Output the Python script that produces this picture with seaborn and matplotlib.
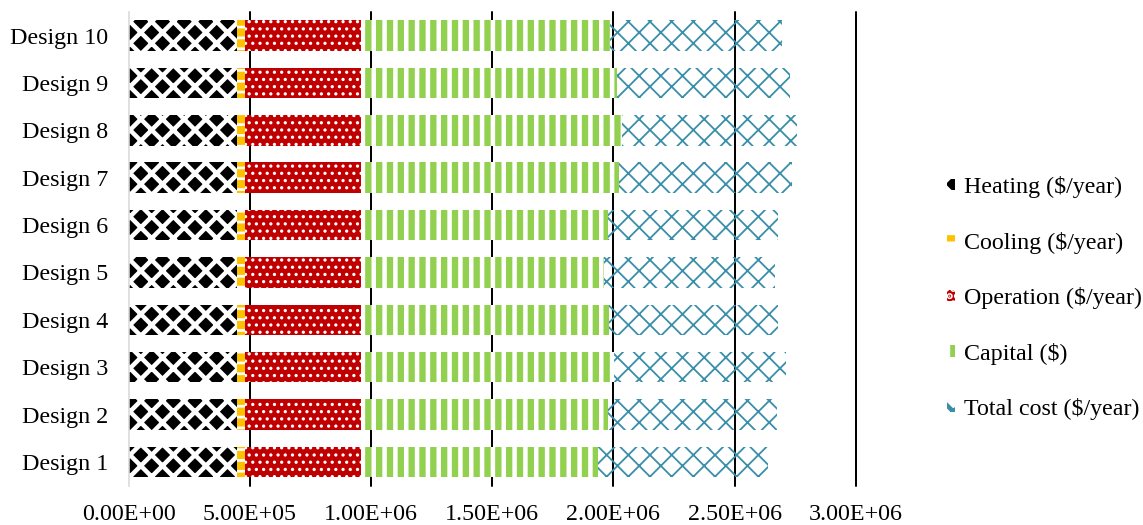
import numpy as np
import pandas as pd
import matplotlib
matplotlib.use("Agg")
import matplotlib.pyplot as plt
from matplotlib.ticker import FuncFormatter
import seaborn as sns

# ---- data -----------------------------------------------------------------
designs = ["Design 1", "Design 2", "Design 3", "Design 4", "Design 5",
           "Design 6", "Design 7", "Design 8", "Design 9", "Design 10"]
heating = [446e3, 446e3, 446e3, 446e3, 446e3, 446e3, 446e3, 446e3, 446e3, 446e3]
cooling = [34e3, 34e3, 34e3, 34e3, 34e3, 34e3, 34e3, 34e3, 34e3, 34e3]
operation = [477e3, 477e3, 477e3, 477e3, 477e3, 477e3, 477e3, 477e3, 477e3, 477e3]
capital = [981e3, 1022e3, 1045e3, 1026e3, 1004e3, 1022e3, 1067e3, 1077e3, 1057e3, 1029e3]
total_cost = [698e3, 697e3, 710e3, 698e3, 706e3, 702e3, 712e3, 722e3, 715e3, 709e3]

series_names = ["Heating ($/year)", "Cooling ($/year)", "Operation ($/year)",
                "Capital ($)", "Total cost ($/year)"]
x_ticks = [0, 5e5, 1.0e6, 1.5e6, 2.0e6, 2.5e6, 3.0e6]

# ---- styling ----------------------------------------------------------------
DPI = 130
sns.set_theme(style="white")
plt.rcParams["font.family"] = ["Liberation Serif", "DejaVu Serif"]
plt.rcParams["font.size"] = 13.3
plt.rcParams["text.color"] = "black"
plt.rcParams["hatch.linewidth"] = 2.5

# face colour, hatch colour, hatch pattern, hatch line width
styles = {
    "Heating ($/year)":    ("black",   "white",   "xx",  2.5),
    "Cooling ($/year)":    ("#FFC000", "white",   "--",  1.5),
    "Operation ($/year)":  ("#C00000", "white",   "...", 1.0),
    "Capital ($)":         ("#92D050", "white",   "||",  2.5),
    "Total cost ($/year)": ("none",    "#3A8FA8", "xx",  1.0),
}

# stacked totals: each layer is drawn from zero to its cumulative end
stack = np.vstack([heating, cooling, operation, capital, total_cost])
cum = np.cumsum(stack, axis=0)
df = pd.DataFrame({"design": designs})
for name, row in zip(series_names, cum):
    df[name] = row

order = designs[::-1]

fig = plt.figure(figsize=(1143 / DPI, 525 / DPI), dpi=DPI)
ax = fig.add_axes([0.1126, 0.0749, 0.6361, 0.9026])

handles = {}
for name in series_names[::-1]:
    face, hcol, hatch, hlw = styles[name]
    n0 = len(ax.patches)
    sns.barplot(data=df, x=name, y="design", order=order, orient="y",
                color="white" if face == "none" else face, saturation=1,
                width=0.645, errorbar=None, hatch=hatch, edgecolor=hcol,
                linewidth=0, ax=ax)
    new = ax.patches[n0:]
    for p in new:
        p.set_facecolor(face)
        p.set_edgecolor(hcol)
        p.set_linewidth(0)
        if hasattr(p, "set_hatch_linewidth"):
            p.set_hatch_linewidth(hlw)
    handles[name] = new[0]

ax.set_xlim(0, 3.0e6)
ax.set_xlabel("")
ax.set_ylabel("")
ax.set_xticks(x_ticks)
ax.xaxis.set_major_formatter(FuncFormatter(lambda v, _: f"{v:.2E}"))

ax.set_axisbelow(True)
ax.xaxis.grid(True, color="black", linewidth=1.1)
ax.yaxis.grid(False)
for gl in ax.get_xgridlines():
    gl.set_clip_on(False)
for side in ["top", "right", "bottom"]:
    ax.spines[side].set_visible(False)
ax.spines["left"].set_color("#D9D9D9")
ax.spines["left"].set_linewidth(0.9)

ax.tick_params(axis="x", length=0, pad=10.3, labelsize=13.3, colors="black")
ax.tick_params(axis="y", length=0, pad=11.5, labelsize=13.3, colors="black")

leg = fig.legend([handles[n] for n in series_names], series_names,
                 loc="center left", bbox_to_anchor=(0.8285, 0.432),
                 frameon=False, borderpad=0, borderaxespad=0,
                 handlelength=0.35, handleheight=0.35, handletextpad=0.35,
                 labelspacing=1.39, fontsize=13.3)
for t in leg.get_texts():
    t.set_color("black")

ax.get_xgridlines()[0].set_visible(False)
fig.savefig("out.png", dpi=DPI)
